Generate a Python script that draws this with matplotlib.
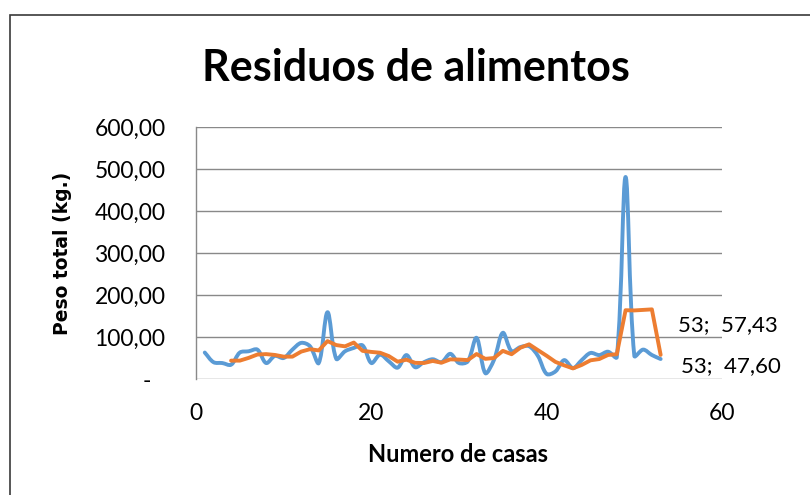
import numpy as np
import pandas as pd
import matplotlib
matplotlib.use("Agg")
import matplotlib.pyplot as plt
from matplotlib.path import Path
from matplotlib.patches import PathPatch, Rectangle
from matplotlib.transforms import ScaledTranslation

# ---- data ----
casas = list(range(1, 54))
peso = [63, 40, 38, 34, 63, 66, 70, 38, 55, 50,
        70, 86, 78, 38, 159, 48, 66, 74, 80, 38,
        58, 42, 27, 57, 28, 40, 47, 40, 60, 38,
        42, 98, 14, 46, 110, 66, 76, 78, 55, 12,
        18, 45, 26, 45, 62, 57, 65, 52, 481, 55,
        70, 57.12, 47.60]
ma_period = 4
yticks = [0, 100, 200, 300, 400, 500, 600]
ytick_labels = ["-", "100,00", "200,00", "300,00", "400,00", "500,00", "600,00"]
xticks = [0, 20, 40, 60]
xtick_labels = ["0", "20", "40", "60"]
title = "Residuos de alimentos"
xlabel = "Numero de casas"
ylabel = "Peso total (kg.)"

BLUE = "#5B9BD5"
ORANGE = "#ED7D31"
GRID = "#898989"

fig = plt.figure(figsize=(8.1, 4.95), dpi=100)
ax = fig.add_axes([196/810, 1-379/495, (722-196)/810, (379-127)/495])
ax.set_xlim(0, 60)
ax.set_ylim(0, 600)

# smoothed blue line (Excel-like bezier smoothing)
x = np.array(casas, dtype=float)
y = np.array(peso, dtype=float)
sx = ax.transAxes.transform((1, 0))[0] - ax.transAxes.transform((0, 0))[0]
sy = ax.transAxes.transform((0, 1))[1] - ax.transAxes.transform((0, 0))[1]
kx, ky = sx / 60.0, sy / 600.0
P = np.column_stack([x * kx, y * ky])
n = len(P)
verts = [tuple(P[0])]
codes = [Path.MOVETO]
def seg(i, j):
    return np.hypot(*(P[j] - P[i]))
for i in range(n - 1):
    p1, p2 = P[i], P[i + 1]
    d1 = seg(i, i + 1)
    if i > 0:
        d0 = seg(i - 1, i)
        T = P[i + 1] - P[i - 1]
        c1 = p1 + T * d1 / (d0 + d1) / 3.0
    else:
        c1 = p1 + (p2 - p1) / 3.0
    if i + 2 < n:
        d2 = seg(i + 1, i + 2)
        T2 = P[i + 2] - P[i]
        c2 = p2 - T2 * d1 / (d1 + d2) / 3.0
    else:
        c2 = p2 - (p2 - p1) / 3.0
    verts += [tuple(c1), tuple(c2), tuple(p2)]
    codes += [Path.CURVE4] * 3
verts = np.array(verts)
verts[:, 0] /= kx
verts[:, 1] /= ky
path = Path(verts, codes)
ax.add_patch(PathPatch(path, facecolor="none", edgecolor=BLUE, lw=2.8,
                       capstyle="round", joinstyle="round", zorder=3))

# moving average trendline
ma = pd.Series(peso, index=casas).rolling(ma_period).mean()
ax.plot(ma.index, ma.values, color=ORANGE, lw=2.8, solid_joinstyle="round",
        solid_capstyle="round", zorder=4)

# grid & spines
ax.set_yticks(yticks)
ax.set_xticks(xticks)
ax.yaxis.grid(True, color=GRID, lw=1.0)
ax.set_axisbelow(True)
for s in ["top", "right", "bottom"]:
    ax.spines[s].set_visible(False)
ax.spines["left"].set_color(GRID)
ax.spines["left"].set_linewidth(1.0)
ax.tick_params(axis="both", length=0)
ax.tick_params(axis="y", pad=22)
ax.tick_params(axis="x", pad=17)
ax.set_yticklabels(ytick_labels, fontfamily="Lato", fontsize=16.5)
ax.set_xticklabels(xtick_labels, fontfamily="Lato", fontsize=16.5)
lab0 = ax.get_yticklabels()[0]
lab0.set_transform(lab0.get_transform() + ScaledTranslation(-0.14, 0.0, fig.dpi_scale_trans))

# annotations of last values
def fmt(v):
    return f"{last_x};  {v:.2f}".replace(".", ",")
last_x = casas[-1]
ax.annotate(fmt(ma.values[-1]), xy=(last_x, ma.values[-1]),
            xytext=(678, 495-325), textcoords="figure pixels",
            fontfamily="Lato", fontsize=16, va="center", ha="left")
ax.annotate(fmt(peso[-1]), xy=(last_x, peso[-1]),
            xytext=(681, 495-366), textcoords="figure pixels",
            fontfamily="Lato", fontsize=16, va="center", ha="left")

fig.text(416/810, 1-68/495, title, ha="center", va="center",
         fontfamily="Lato", fontweight="bold", fontsize=31)
fig.text(458/810, 1-455/495, xlabel, ha="center", va="center",
         fontfamily="Lato", fontweight="bold", fontsize=17)
fig.text(63/810, 1-253/495, ylabel, ha="center", va="center", rotation=90,
         fontfamily="DejaVu Sans", fontweight="bold", fontsize=13.5)

# outer chart border
fig.patches.append(Rectangle((10/810, -0.2), 1.2, (495-15)/495 + 0.2,
                             transform=fig.transFigure, fill=False,
                             edgecolor="#3a3a3a", lw=1.2))

fig.savefig("out.png", dpi=100)
